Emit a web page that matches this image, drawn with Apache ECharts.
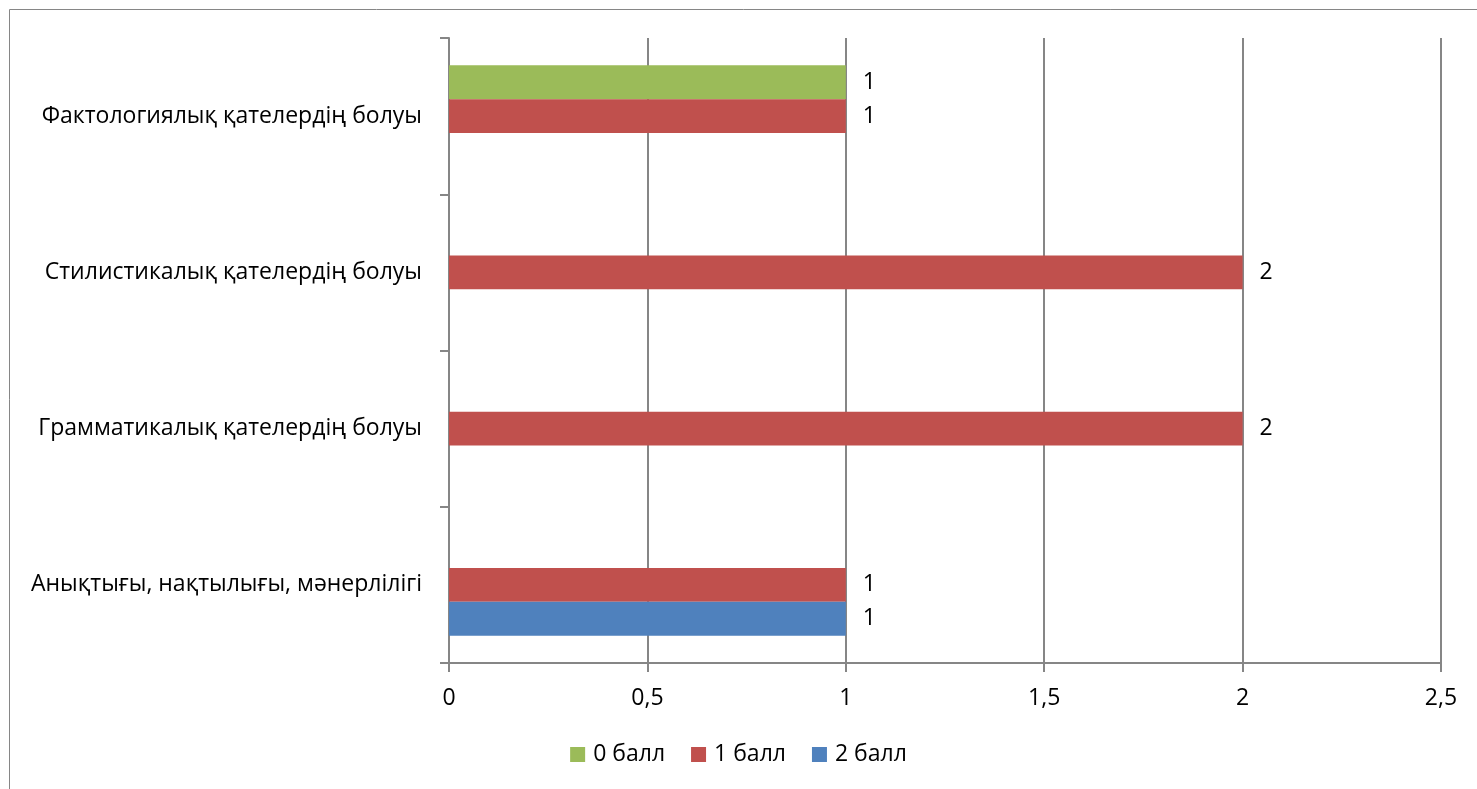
<!DOCTYPE html>
<html><head><meta charset="utf-8">
<script src="https://cdn.jsdelivr.net/npm/echarts@6/dist/echarts.min.js"></script>
<style>html,body{margin:0;padding:0;background:#fff}#c{width:1477px;height:789px}</style>
</head><body><div id="c"></div>
<script>
const categories = ['Анықтығы, нақтылығы, мәнерлілігі', 'Грамматикалық қателердің болуы', 'Стилистикалық қателердің болуы', 'Фактологиялық қателердің болуы'];
const seriesNames = ['0 балл', '1 балл', '2 балл'];
const ball0 = [null, null, null, 1];
const ball1 = [1, 2, 2, 1];
const ball2 = [1, null, null, null];
const xTicks = [0, 0.5, 1, 1.5, 2, 2.5];

const font = '"Open Sans", "Liberation Sans", sans-serif';
const colors = {'0 балл': '#9BBB59', '1 балл': '#C0504D', '2 балл': '#4F81BD'};
const dataMap = {'0 балл': ball0, '1 балл': ball1, '2 балл': ball2};
const fs = 23;

const chart = echarts.init(document.getElementById('c'));
chart.setOption({
  animation: false,
  textStyle: {fontFamily: font},
  graphic: [{type: 'rect', shape: {x: 9.5, y: 9.5, width: 1500, height: 800}, style: {fill: 'none', stroke: '#868686', lineWidth: 1}, silent: true}],
  grid: {left: 449, right: 36, top: 38, bottom: 126, containLabel: false},
  legend: {
    data: seriesNames, bottom: 18, left: 'center', itemWidth: 15, itemHeight: 15, itemGap: 26,
    icon: 'rect', textStyle: {fontSize: fs, color: '#000', fontFamily: font, padding: [0, 0, 0, 3]}
  },
  xAxis: {
    type: 'value', min: xTicks[0], max: xTicks[xTicks.length - 1], interval: 0.5,
    axisLine: {show: true, lineStyle: {color: '#868686', width: 2}},
    axisTick: {show: true, length: 9, lineStyle: {color: '#868686', width: 2}},
    splitLine: {show: true, lineStyle: {color: '#868686', width: 2}},
    axisLabel: {fontSize: fs, color: '#000', margin: 24, fontFamily: font,
      formatter: v => String(v).replace('.', ',')}
  },
  yAxis: {
    type: 'category', data: categories,
    axisLine: {show: true, lineStyle: {color: '#868686', width: 2}},
    axisTick: {show: true, length: 9, lineStyle: {color: '#868686', width: 2}},
    axisLabel: {fontSize: fs, color: '#000', margin: 27, fontFamily: font}
  },
  series: seriesNames.map(n => ({
    name: n, type: 'bar', data: dataMap[n], barGap: '0%', barCategoryGap: '35%',
    itemStyle: {color: colors[n]},
    label: {show: true, position: 'right', distance: 17, fontSize: fs, color: '#000', fontFamily: font}
  }))
});
</script></body></html>
